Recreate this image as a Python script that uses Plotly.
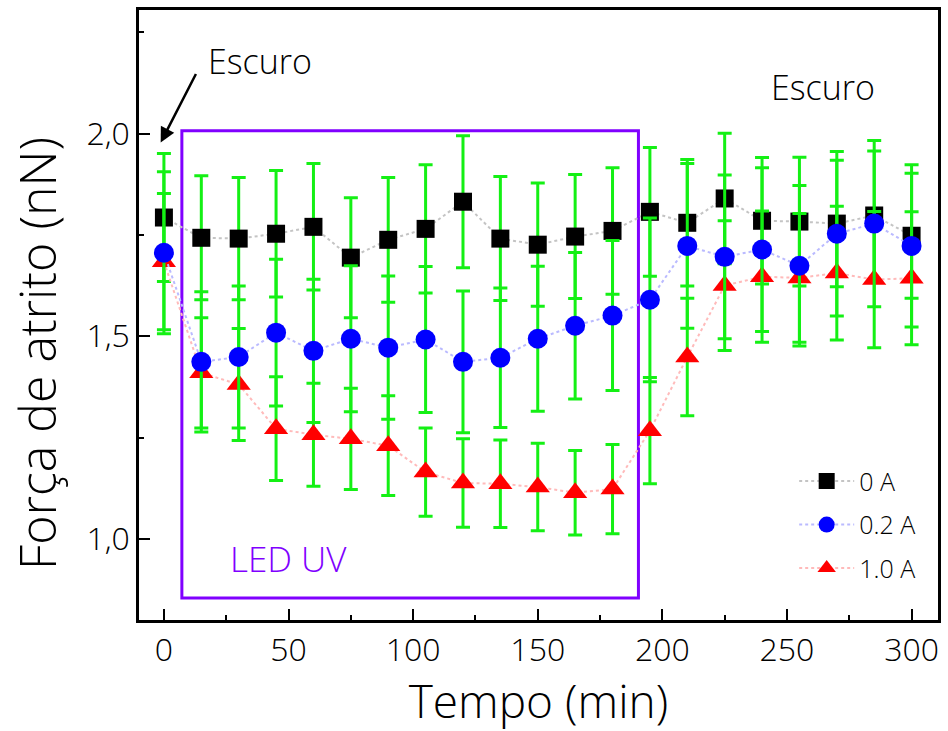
import plotly.graph_objects as go

# ---- data ----
tempo = [0, 15, 30, 45, 60, 75, 90, 105, 120, 135, 150, 165, 180, 195, 210, 225, 240, 255, 270, 285, 300]

y_0A = [1.793, 1.743, 1.741, 1.753, 1.770, 1.694, 1.738, 1.765, 1.832, 1.741, 1.726,
        1.746, 1.760, 1.807, 1.780, 1.840, 1.785, 1.783, 1.778, 1.798, 1.748]
err_0A = [0.158, 0.153, 0.151, 0.156, 0.156, 0.148, 0.154, 0.158, 0.163, 0.153, 0.152,
          0.153, 0.156, 0.159, 0.156, 0.161, 0.156, 0.159, 0.156, 0.159, 0.154]

y_02A = [1.706, 1.437, 1.449, 1.509, 1.464, 1.494, 1.472, 1.492, 1.437, 1.447, 1.494,
         1.526, 1.551, 1.590, 1.723, 1.696, 1.714, 1.674, 1.753, 1.778, 1.723]
err_02A = [0.200, 0.173, 0.175, 0.181, 0.177, 0.180, 0.177, 0.180, 0.175, 0.172, 0.179,
           0.181, 0.185, 0.202, 0.203, 0.202, 0.202, 0.198, 0.203, 0.205, 0.200]

y_10A = [1.684, 1.410, 1.381, 1.272, 1.257, 1.247, 1.230, 1.165, 1.138, 1.136, 1.128,
         1.114, 1.123, 1.267, 1.449, 1.625, 1.647, 1.644, 1.656, 1.640, 1.643]
err_10A = [0.168, 0.136, 0.138, 0.128, 0.127, 0.125, 0.123, 0.109, 0.109, 0.108, 0.108,
           0.104, 0.110, 0.131, 0.145, 0.160, 0.162, 0.159, 0.165, 0.168, 0.164]

names = ["0 A", "0.2 A", "1.0 A"]
x_ticks = [0, 50, 100, 150, 200, 250, 300]
y_ticks = [1.0, 1.5, 2.0]

FONT = "Open Sans, Noto Sans, sans-serif"
W = 300
GREEN = "rgb(20,240,20)"
PURPLE = "#8000ff"

fig = go.Figure()

def add_series(y, err, name, symbol, color, lcolor, size, rank):
    fig.add_trace(go.Scatter(
        x=tempo, y=y, name=name, mode="lines+markers",
        line=dict(color=lcolor, width=2, dash="dot"),
        marker=dict(symbol=symbol, color=color, size=size, line=dict(width=0)),
        error_y=dict(type="data", array=err, visible=True, color=GREEN,
                     thickness=3, width=7),
        legendrank=rank, legendgroup=name, hoverinfo="skip",
    ))

add_series(y_0A, err_0A, names[0], "square", "black", "#c4c4c4", 18, 1)
add_series(y_10A, err_10A, names[2], "triangle-up", "#ff0000", "#ffbaba", 21, 3)
add_series(y_02A, err_02A, names[1], "circle", "#0000ff", "#babaff", 20, 2)

axis_common = dict(showgrid=False, zeroline=False, showline=True, linecolor="black",
                   linewidth=2.5, ticks="inside", tickcolor="black", tickwidth=2,
                   ticklen=11, tickfont=dict(family=FONT, size=32, color="black", weight=W),
                   mirror=True)

fig.update_layout(
    width=948, height=731,
    margin=dict(l=139, r=7, t=10, b=111),
    paper_bgcolor="white", plot_bgcolor="white",
    separators=",.",
    font=dict(family=FONT, color="black", weight=W),
    xaxis=dict(range=[-10, 310.6], tickvals=x_ticks,
               minor=dict(dtick=25, tick0=0, ticks="inside", ticklen=5, tickwidth=2, tickcolor="black"),
               title=dict(text="Tempo (min)", font=dict(family=FONT, size=46, weight=W), standoff=4),
               **axis_common),
    yaxis=dict(range=[0.8, 2.305], tickvals=y_ticks, tickformat=".1f",
               minor=dict(dtick=0.25, tick0=0, ticks="inside", ticklen=5, tickwidth=2, tickcolor="black"),
               **axis_common),
    legend=dict(x=0.82, y=0.265, xanchor="left", yanchor="top", bgcolor="rgba(0,0,0,0)",
                font=dict(family=FONT, size=25, weight=W), itemwidth=55, tracegroupgap=8,
                traceorder="grouped"),
    showlegend=True,
)

# y-axis title (placed like the original, slightly below the axis centre)
fig.add_annotation(xref="paper", yref="paper", x=-0.127, y=0.437, xanchor="center", yanchor="middle",
                   text="Força de atrito (nN)", textangle=-90, showarrow=False,
                   font=dict(family=FONT, size=50, weight=W, color="black"))

# UV LED box
fig.add_shape(type="rect", xref="x", yref="y", x0=7.2, x1=190.4, y0=0.854, y1=2.007,
              line=dict(color=PURPLE, width=3), layer="below")

fig.add_annotation(x=49.8, y=0.951, xref="x", yref="y", text="LED UV", showarrow=False,
                   font=dict(family=FONT, size=35, color=PURPLE, weight=W))
fig.add_annotation(x=38.4, y=2.18, xref="x", yref="y", text="Escuro", showarrow=False,
                   font=dict(family=FONT, size=34, color="black", weight=W))
fig.add_annotation(x=264.4, y=2.116, xref="x", yref="y", text="Escuro", showarrow=False,
                   font=dict(family=FONT, size=34, color="black", weight=W))
fig.add_annotation(x=-1.3, y=1.978, xref="x", yref="y", text="", showarrow=True,
                   ax=36, ay=-70, arrowhead=2, arrowsize=1.2, arrowwidth=2.5,
                   arrowcolor="black", standoff=0)

fig.write_html("out.html")
